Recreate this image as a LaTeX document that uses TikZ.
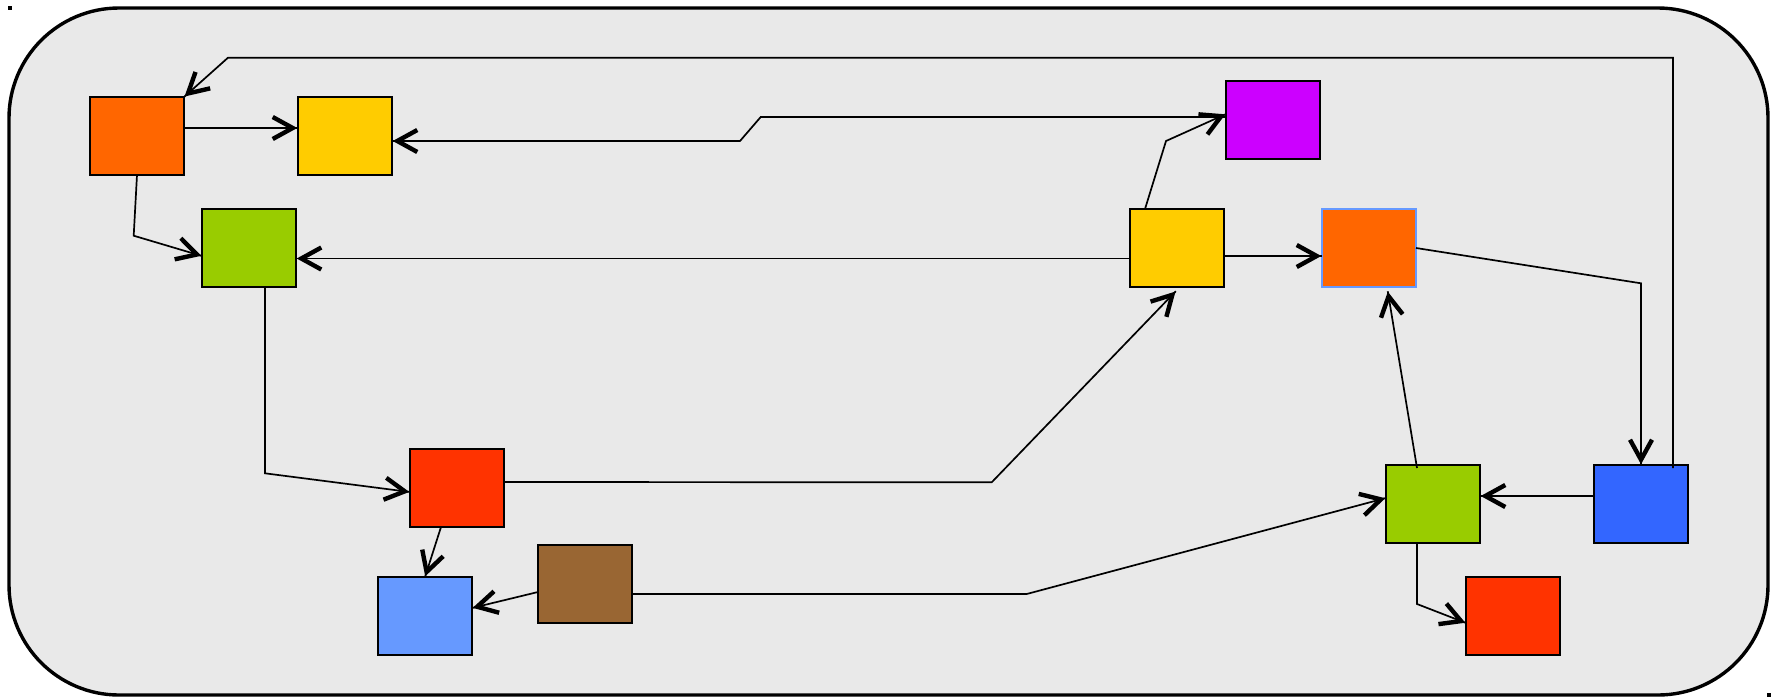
\documentclass[tikz,border=0pt]{standalone}
\usetikzlibrary{arrows.meta,calc}
\definecolor{panel}{HTML}{E9E9E9}
\definecolor{cOrange}{HTML}{FF6600}
\definecolor{cYellow}{HTML}{FFCC00}
\definecolor{cGreen}{HTML}{99CC00}
\definecolor{cPurple}{HTML}{CC00FF}
\definecolor{cRed}{HTML}{FF3300}
\definecolor{cSky}{HTML}{6699FF}
\definecolor{cBrown}{HTML}{996633}
\definecolor{cBlue}{HTML}{3366FF}
\begin{document}
\begin{tikzpicture}[x=0.5pt,y=-0.5pt,
  box/.style={draw=black,line width=1.2pt,minimum width=47pt,minimum height=39pt,inner sep=0pt,outer sep=0pt},
  conn/.style={draw=black,line width=0.85pt,
    -{Straight Barb[length=10pt,width=11pt,line width=2.2pt,sep=0pt]
      Straight Barb[length=0.2pt,width=0.2pt,line width=0.1pt,sep=0pt]}}]
\useasboundingbox (0,0) rectangle (1782,697);
% corner markers
\fill[black] (7.5,5.5) rectangle (11.5,9.5);
\fill[black] (1767,693) rectangle (1771,697);
% panel
\draw[line width=1.7pt,fill=panel,rounded corners=55pt] (9,8) rectangle (1768,695);
% boxes
\node[box,fill=cOrange] (o1) at (137,136) {};
\node[box,fill=cYellow] (y1) at (345,136) {};
\node[box,fill=cGreen] (g1) at (249,248) {};
\node[box,fill=cPurple] (p1) at (1273,120) {};
\node[box,fill=cYellow] (y2) at (1177,248) {};
\node[box,fill=cOrange,draw=cSky] (o2) at (1369,248) {};
\node[box,fill=cRed] (r1) at (457,488) {};
\node[box,fill=cSky] (b1) at (425,616) {};
\node[box,fill=cBrown] (br) at (585,584) {};
\node[box,fill=cGreen] (g2) at (1433,504) {};
\node[box,fill=cBlue] (bl) at (1641,504) {};
\node[box,fill=cRed] (r2) at (1513,616) {};
% connectors
\draw[conn] ($(bl.north)+(32,3)$) |- (228,57.7) -- (o1.north east);
\draw[conn] ($(o1.east)+(0,-8)$) -- ($(y1.west)+(0,-8)$);
\draw[conn] ($(p1.west)+(0,-3)$) -- (760.7,117) -- (740,141) -- ($(y1.east)+(0,5)$);
\draw[conn] (o1.south) -- (133.7,235.7) -- ($(g1.west)+(0,8)$);
\draw[conn] ($(y2.west)+(0,10.5)$) -- ($(g1.east)+(0,10.5)$);
\draw[conn] ($(y2.north)+(-32,0)$) -- (1166,141) -- ($(p1.west)+(0,-6)$);
\draw[conn] ($(y2.east)+(0,8)$) -- ($(o2.west)+(0,8)$);
\draw[conn] (o2.east) -- (1641,283.3) -- (bl.north);
\draw[conn] ($(bl.west)+(0,-8)$) -- ($(g2.east)+(0,-8)$);
\draw[conn] ($(g2.north)+(-16,3)$) -- ($(o2.south)+(18.7,4)$);
\draw[conn] ($(g2.south)+(-16,0)$) -- (1417,604) -- ($(r2.west)+(0,7)$);
\draw[conn] ($(br.east)+(0,10)$) -- (1026.7,594) -- ($(g2.west)+(0,-6)$);
\draw[conn] ($(r1.east)+(0,-6)$) -- (991.7,482.3) -- ($(y2.south)+(-1,4)$);
\draw[conn] ($(g1.south)+(16,0)$) -- (265,473.3) -- ($(r1.west)+(0,4)$);
\draw[conn] ($(r1.south)+(-16,0)$) -- (b1.north);
\draw[conn] ($(br.west)+(0,8)$) -- ($(b1.east)+(0,-8)$);
\end{tikzpicture}
\end{document}
